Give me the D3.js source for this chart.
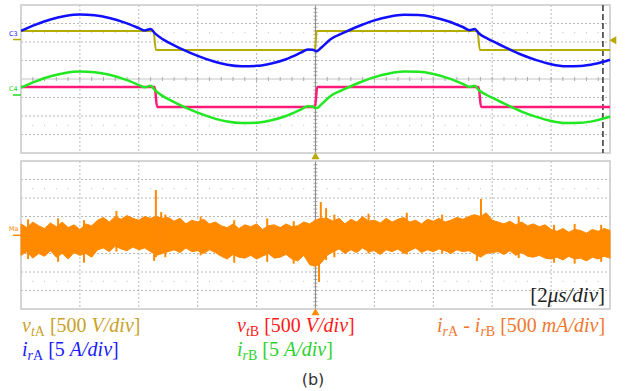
<!DOCTYPE html>
<html>
<head>
<meta charset="utf-8">
<script src="https://cdn.jsdelivr.net/npm/d3@7"></script>
<style>
  body { margin: 0; background: #fff; }
</style>
</head>
<body>
<svg id="chart" width="627" height="391"></svg>
<script>
// time axis in divisions (10 div across, 2 us/div)
const irTime = [0, 0.25, 0.5, 0.75, 1, 1.25, 1.5, 1.75, 2, 2.1, 2.2, 2.28, 2.4, 2.5, 2.75, 3, 3.25, 3.5, 3.75, 4, 4.25, 4.5, 4.75,
  4.87, 4.95, 5.02, 5.1, 5.25, 5.5, 5.75, 6, 6.25, 6.5, 6.75, 7, 7.25, 7.5, 7.62, 7.7, 7.78, 7.9, 8, 8.25, 8.5, 8.75, 9, 9.25, 9.5, 9.75, 10];
// resonant currents, in vertical divisions of the upper panel
const irAValues = [2.60, 2.94, 3.22, 3.40, 3.48, 3.44, 3.30, 3.06, 2.75, 2.62, 2.70, 2.45, 2.16, 1.98, 1.59, 1.25, 0.97, 0.77, 0.69, 0.71, 0.84, 1.07, 1.42,
  1.60, 1.58, 1.50, 1.70, 2.14, 2.53, 2.88, 3.17, 3.37, 3.47, 3.46, 3.34, 3.12, 2.81, 2.64, 2.70, 2.45, 2.22, 2.06, 1.67, 1.31, 1.02, 0.80, 0.69, 0.70, 0.82, 1.04];
const irBValues = [-0.47, -0.13, 0.15, 0.33, 0.41, 0.37, 0.23, -0.01, -0.32, -0.45, -0.37, -0.62, -0.91, -1.09, -1.48, -1.82, -2.10, -2.30, -2.38, -2.36, -2.23, -2.00, -1.65,
  -1.47, -1.49, -1.57, -1.37, -0.93, -0.54, -0.19, 0.10, 0.30, 0.40, 0.39, 0.27, 0.05, -0.26, -0.43, -0.37, -0.62, -0.85, -1.01, -1.40, -1.76, -2.05, -2.27, -2.38, -2.37, -2.25, -2.03];

// transformer voltages (square waves)
const vtTime = [0, 2.25, 2.29, 4.99, 5.02, 7.75, 7.79, 10];
const vtAValues = [2.59, 2.59, 1.57, 1.57, 2.59, 2.59, 1.57, 1.57];
const vtBTime = [0, 2.27, 2.31, 4.99, 5.03, 7.77, 7.81, 10];
const vtBValues = [-0.43, -0.43, -1.51, -1.51, -0.43, -0.43, -1.51, -1.51];

// current difference irA - irB, noise band envelope in divisions of the lower panel
const diffTime = d3.range(0, 101).map(i => i / 10);
const diffHigh = [0.6, 0.4, 0.7, 0.5, 0.35, 0.65, 0.45, 0.7, 0.4, 0.55, 0.3, 0.6, 0.5,
  0.8, 0.95, 0.7, 1.0, 0.85, 1.05, 0.9, 0.8, 1.0, 0.9,
  1.0, 0.9, 0.95,
  0.75, 0.9, 0.6, 0.8, 0.7, 0.85, 0.6, 0.7,
  0.5, 0.4, 0.6, 0.35, 0.55, 0.45, 0.6, 0.3, 0.5, 0.55, 0.4, 0.6, 0.45, 0.5, 0.7,
  0.6, 0.8, 0.9, 0.9,
  0.75, 0.9, 0.6, 0.85, 0.7, 1.0, 0.75, 0.8, 0.65, 0.9, 0.7, 0.85, 0.95, 0.7, 0.8, 0.6, 0.85, 0.75, 0.9, 0.7, 0.8, 0.95, 0.85, 1.0,
  1.1, 1.0, 1.2, 0.8,
  0.7, 0.6, 0.75, 0.55, 0.7, 0.5, 0.6, 0.45, 0.55,
  0.3, 0.2, 0.35, 0.15, 0.3, 0.25, 0.1, 0.3, 0.2, 0.35, 0.25];
const diffLow = [-1.1, -0.9, -1.25, -1.0, -1.15, -0.85, -1.2, -1.0, -1.3, -0.95, -1.1, -1.0, -1.2,
  -0.8, -0.7, -0.9, -0.6, -0.75, -0.85, -0.65, -0.8, -0.7, -0.9,
  -1.1, -1.0, -0.9,
  -0.8, -0.95, -0.7, -0.9, -0.85, -1.0, -0.8, -0.95,
  -1.15, -1.3, -1.05, -1.2, -1.25, -1.1, -1.3, -1.15, -1.0, -1.25, -1.2, -1.05, -1.3, -1.4, -1.1,
  -1.6, -1.7, -1.5, -1.1,
  -0.9, -0.75, -1.0, -0.8, -0.95, -0.7, -0.9, -0.85, -1.05, -0.8, -0.9, -0.75, -1.0, -0.85, -0.7, -0.95, -0.8, -0.9, -0.75, -0.85, -1.0, -0.8, -0.9, -0.85,
  -1.0, -1.2, -1.0, -0.95,
  -0.9, -1.05, -0.85, -1.1, -0.95, -1.15, -1.2, -1.1, -1.25,
  -1.3, -1.2, -1.35, -1.15, -1.3, -1.25, -1.4, -1.2, -1.3, -1.15, -1.25];
// noise bursts and switching spikes: [time, top, bottom]
const diffSpikes = [[0.12, 0.85, -1.3], [0.63, 0.9, -1.45], [1.07, 0.8, -1.5], [1.62, 1.3, -0.9], [2.26, 0.6, -1.4],
  [2.29, 2.43, -1.2], [2.38, 1.24, -0.8], [2.45, 1.1, -1.2], [3.05, 1.0, -1.1], [3.62, 0.8, -1.5], [4.18, 0.9, -1.45],
  [4.63, 0.75, -1.55], [4.92, 0.5, -1.63], [5.06, 0.9, -2.54], [5.09, 1.78, -1.0], [5.18, 1.45, -1.35], [5.32, 1.1, -1.2],
  [5.9, 1.15, -1.0], [6.55, 1.2, -1.05], [7.15, 1.1, -1.0], [7.74, 0.9, -1.4], [7.81, 1.95, -1.0], [7.9, 1.08, -0.9],
  [8.45, 1.0, -1.25], [9.05, 0.55, -1.5], [9.4, 0.6, -1.55], [9.85, 0.55, -1.45]];

const svg = d3.select('#chart');
const x = d3.scaleLinear().domain([0, 10]).range([21, 610]);
const yTop = d3.scaleLinear().domain([-4, 4]).range([153, 5]);
const yBot = d3.scaleLinear().domain([-4, 4]).range([309, 161]);

function drawGrid(y) {
  const g = svg.append('g');
  g.selectAll('.vgrid').data([1, 2, 3, 4, 6, 7, 8, 9]).enter().append('line')
    .attr('x1', d => x(d)).attr('x2', d => x(d))
    .attr('y1', y(4)).attr('y2', y(-4))
    .attr('stroke', '#b8b8b8').attr('stroke-dasharray', '2,2');
  g.selectAll('.hgrid').data([-3, -2, -1, 1, 2, 3]).enter().append('line')
    .attr('x1', x(0)).attr('x2', x(10))
    .attr('y1', d => y(d)).attr('y2', d => y(d))
    .attr('stroke', '#b8b8b8').attr('stroke-dasharray', '2,2');
  // solid center line with minor ticks
  g.append('line').attr('x1', x(0)).attr('x2', x(10)).attr('y1', y(0)).attr('y2', y(0))
    .attr('stroke', '#c4c4c4');
  g.selectAll('.mtick').data(d3.range(1, 50)).enter().append('line')
    .attr('x1', d => x(d / 5)).attr('x2', d => x(d / 5))
    .attr('y1', y(0) - 2).attr('y2', y(0) + 2)
    .attr('stroke', '#aaa');
  // dot rows
  [2.5, -2.5].forEach(r => {
    g.selectAll(null).data(d3.range(1, 50).filter(d => d % 5 !== 0)).enter().append('line')
      .attr('x1', d => x(d / 5) - 0.5).attr('x2', d => x(d / 5) + 0.5)
      .attr('y1', y(r)).attr('y2', y(r))
      .attr('stroke', '#bbb');
  });
  g.selectAll('.vtick').data(d3.range(-19, 20).filter(d => d !== 0)).enter().append('line')
    .attr('x1', x(5) - 2).attr('x2', x(5) + 2)
    .attr('y1', d => y(d / 5)).attr('y2', d => y(d / 5))
    .attr('stroke', '#aaa');
  g.append('line').attr('x1', x(5)).attr('x2', x(5)).attr('y1', y(4)).attr('y2', y(-4))
    .attr('stroke', '#909090').attr('stroke-width', 1.2);
  g.append('rect').attr('x', x(0)).attr('y', y(4))
    .attr('width', x(10) - x(0)).attr('height', y(-4) - y(4))
    .attr('fill', 'none').attr('stroke', '#c8c8c8').attr('stroke-width', 1.5);
}

drawGrid(yTop);
drawGrid(yBot);

// right dashed cursor
svg.append('line').attr('x1', x(9.88)).attr('x2', x(9.88)).attr('y1', yTop(4)).attr('y2', yTop(-4))
  .attr('stroke', '#333').attr('stroke-width', 1.5).attr('stroke-dasharray', '6,3');

function drawTrace(times, values, y, color, width) {
  const line = d3.line().x((d, i) => x(times[i])).y(d => y(d)).curve(d3.curveMonotoneX);
  svg.append('path').datum(values)
    .attr('d', line)
    .attr('fill', 'none')
    .attr('stroke', color)
    .attr('stroke-width', width)
    .attr('stroke-linejoin', 'round');
}

drawTrace(vtTime, vtAValues, yTop, '#b4ac00', 2);
drawTrace(vtBTime, vtBValues, yTop, '#ff1a7a', 2.5);
drawTrace(irTime, irAValues, yTop, '#1010ff', 2.5);
drawTrace(irTime, irBValues, yTop, '#22e822', 2.5);

// difference current band
const band = d3.area()
  .x((d, i) => x(diffTime[i]))
  .y0((d, i) => yBot(diffLow[i]))
  .y1(d => yBot(d));
svg.append('path').datum(diffHigh)
  .attr('d', band)
  .attr('fill', '#ff8a00')
  .attr('stroke', '#ff8a00')
  .attr('stroke-width', 1);
svg.selectAll('.spike').data(diffSpikes).enter().append('line')
  .attr('x1', d => x(d[0])).attr('x2', d => x(d[0]))
  .attr('y1', d => yBot(d[1])).attr('y2', d => yBot(d[2]))
  .attr('stroke', '#ff8a00').attr('stroke-width', 2);

// channel markers
const markers = [
  { label: 'C3', y: yTop(2.35), color: '#1a1aff', line: '#b4ac00' },
  { label: 'C4', y: yTop(-0.65), color: '#22d822', line: '#22d822' },
  { label: 'Ma', y: yBot(0.2), color: '#ff8a00', line: '#ff8a00' }
];
markers.forEach(m => {
  svg.append('text').attr('x', 9).attr('y', m.y).text(m.label)
    .style('font-family', "'DejaVu Sans'").attr('font-size', 6.5).attr('fill', m.color);
  svg.append('line').attr('x1', 13).attr('x2', 21).attr('y1', m.y + 4).attr('y2', m.y + 4)
    .attr('stroke', m.line).attr('stroke-width', 1.5);
});

const tri = d3.symbol().type(d3.symbolTriangle).size(28);
svg.append('path').attr('d', tri).attr('fill', '#b8a800')
  .attr('transform', `translate(${x(5)},${yTop(-4) + 4})`);
svg.append('path').attr('d', tri).attr('fill', '#ff8a00')
  .attr('transform', `translate(${x(5)},${yBot(-4) + 4})`);
svg.append('path').attr('d', tri).attr('fill', '#b8a800')
  .attr('transform', `translate(614,${yTop(2.1)}) rotate(-90)`);

// legend
const legendItems = [
  { x: 22, y: 332, color: '#c9a227', parts: [['v', 'i'], ['t', 'si'], ['A', 's'], ['\u00a0[500\u00a0', ''], ['V/div', 'i'], [']', '']] },
  { x: 22, y: 356, color: '#1a1aff', parts: [['i', 'i'], ['r', 'si'], ['A', 's'], ['\u00a0[5\u00a0', ''], ['A/div', 'i'], [']', '']] },
  { x: 237, y: 332, color: '#ff1a1a', parts: [['v', 'i'], ['t', 'si'], ['B', 's'], ['\u00a0[500\u00a0', ''], ['V/div', 'i'], [']', '']] },
  { x: 237, y: 356, color: '#2ed12e', parts: [['i', 'i'], ['r', 'si'], ['B', 's'], ['\u00a0[5\u00a0', ''], ['A/div', 'i'], [']', '']] },
  { x: 437, y: 332, color: '#f07830', parts: [['i', 'i'], ['r', 'si'], ['A', 's'], ['\u00a0-\u00a0', ''], ['i', 'i'], ['r', 'si'], ['B', 's'], ['\u00a0[500\u00a0', ''], ['mA/div', 'i'], [']', '']] }
];

const serifFamily = "'Liberation Serif', 'Times New Roman', Times, serif";

function richText(item, size, anchor) {
  const subSize = Math.round(size * 0.7);
  const t = svg.append('text')
    .attr('x', item.x).attr('y', item.y)
    .attr('fill', item.color)
    .attr('text-anchor', anchor || 'start')
    .attr('font-family', serifFamily)
    .style('font-family', serifFamily)
    .attr('font-size', size);
  let shift = 0;
  item.parts.forEach(([s, style]) => {
    const sub = style.indexOf('s') >= 0;
    const target = sub ? 4 : 0;
    t.append('tspan')
      .attr('dy', target - shift)
      .style('font-family', serifFamily)
      .attr('font-size', sub ? subSize : size)
      .attr('font-style', style.indexOf('i') >= 0 ? 'italic' : 'normal')
      .text(s);
    shift = target;
  });
}
legendItems.forEach(d => richText(d, 20));

richText({ x: 605, y: 302, color: '#222', parts: [['[2', ''], ['\u03bcs/div', 'i'], [']', '']] }, 21, 'end');

svg.append('text').attr('x', 313).attr('y', 385)
  .attr('text-anchor', 'middle')
  .style('font-family', "'DejaVu Sans'")
  .attr('font-size', 16)
  .attr('fill', '#333')
  .text('(b)');
</script>
</body>
</html>
